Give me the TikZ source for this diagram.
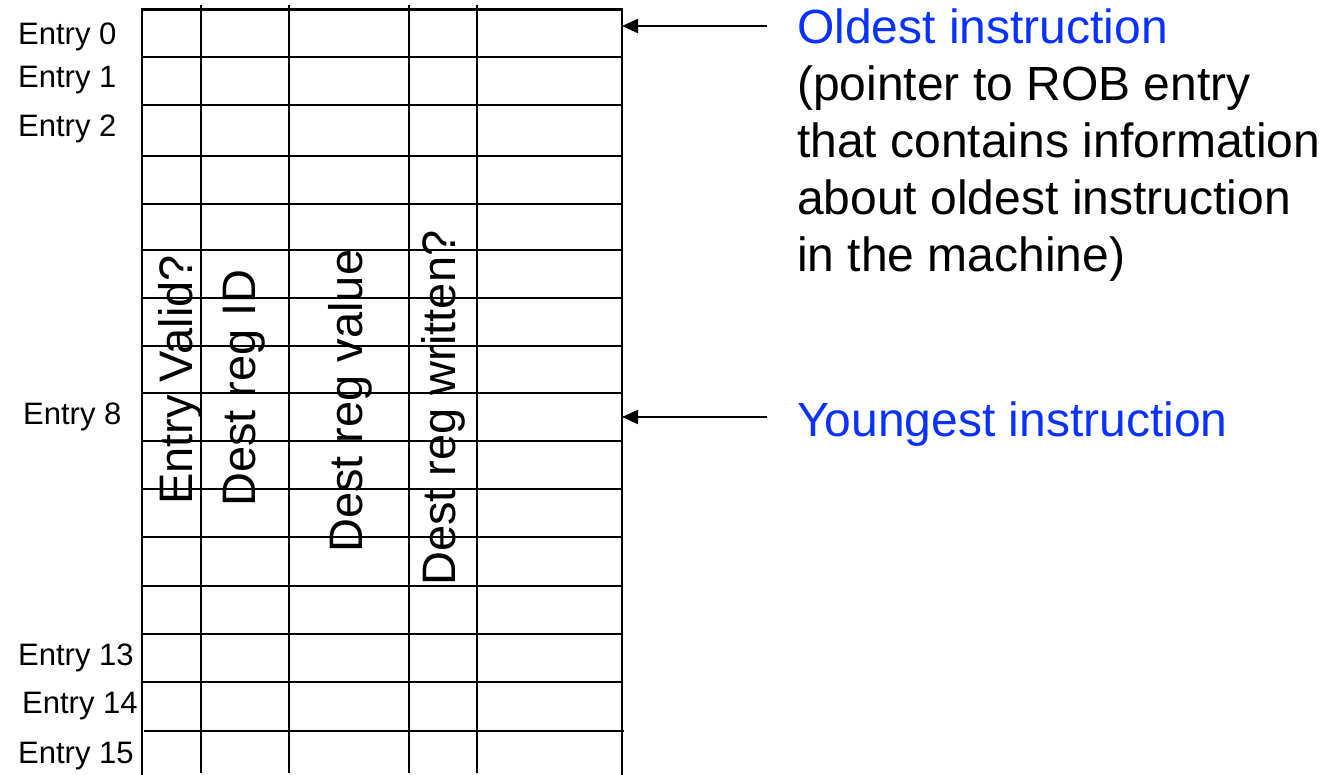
\documentclass[tikz,border=0pt]{standalone}
\usepackage{fontspec}
\setmainfont{Liberation Sans}
\usetikzlibrary{arrows.meta}
\definecolor{ptrblue}{RGB}{10,50,255}
\begin{document}
\begin{tikzpicture}[x=1pt,y=-1pt,
  grid/.style={line width=2.1pt,black},
  rowlabel/.style={anchor=base west,inner sep=0pt,font=\fontsize{31}{37}\selectfont},
  fieldlabel/.style={anchor=base west,inner sep=0pt,rotate=90,font=\fontsize{47}{56}\selectfont},
  ptr/.style={line width=2.1pt,-{Triangle[length=16pt,width=14pt]}},
  note/.style={anchor=base west,inner sep=0pt,align=left,font=\fontsize{48}{57}\selectfont}]
\useasboundingbox (0,0) rectangle (1331,775);

% reorder buffer: outer frame and row separators
\draw[grid] (142,775) -- (142,9.5) -- (622,9.5) -- (622,775);
\foreach \y in {57,105,156,204,250,298,346,393,441,489,537,586,634,682}
  \draw[grid] (142,\y) -- (622,\y);
\draw[grid] (144,731) -- (624,731);
% field separators
\foreach \x in {201,289,409,477}
  \draw[grid] (\x,5) -- (\x,773);

% entry numbers
\node[rowlabel] (e0)  at (18,45)  {Entry 0};
\node[rowlabel] (e1)  at (18,88)  {Entry 1};
\node[rowlabel] (e2)  at (18,137) {Entry 2};
\node[rowlabel] (e8)  at (23,425) {Entry 8};
\node[rowlabel] (e13) at (18,665) {Entry 13};
\node[rowlabel] (e14) at (22,713) {Entry 14};
\node[rowlabel] (e15) at (18,763) {Entry 15};

% field names
\node[fieldlabel] (valid)   at (192,505) {Entry Valid?};
\node[fieldlabel] (regid)   at (255,507) {Dest reg ID};
\node[fieldlabel] (regval)  at (362,553) {Dest reg value};
\node[fieldlabel] (written) at (455,586) {Dest reg written?};

% head and tail pointers (base anchor sits on the last line)
\node[note] (oldest) at (797,272)
  {\textcolor{ptrblue}{Oldest instruction}\\(pointer to ROB entry\\that contains information\\about oldest instruction\\in the machine)};
\node[note] (youngest) at (797,436) {\textcolor{ptrblue}{Youngest instruction}};
\coordinate (oldtail) at (767,26);
\coordinate (oldhead) at (622,26);
\coordinate (youngtail) at (767,417);
\coordinate (younghead) at (622,417);
\draw[ptr] (oldtail) -- (oldhead);
\draw[ptr] (youngtail) -- (younghead);
\end{tikzpicture}
\end{document}
